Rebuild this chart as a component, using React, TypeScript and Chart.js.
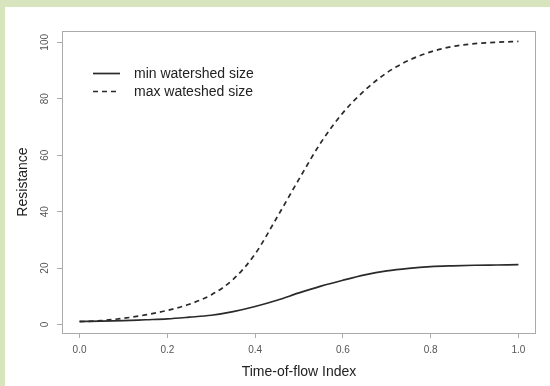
import React, { useEffect, useRef } from "react";
import { Chart, registerables } from "chart.js";

Chart.register(...registerables);

const timeIndex = [0, 0.05, 0.1, 0.15, 0.2, 0.25, 0.3, 0.35, 0.4, 0.45, 0.5, 0.55, 0.6, 0.65, 0.7, 0.75, 0.8, 0.85, 0.9, 0.95, 1.0];
const minWatershed = [1.1, 1.2, 1.4, 1.7, 2.0, 2.6, 3.3, 4.6, 6.4, 8.6, 11.2, 13.6, 15.7, 17.6, 19.0, 19.9, 20.5, 20.8, 21.0, 21.1, 21.2];
const maxWatershed = [1.0, 1.4, 2.2, 3.4, 5.0, 7.2, 10.5, 16, 25, 38, 51.5, 64.5, 75, 83, 89.2, 93.6, 96.6, 98.5, 99.5, 100, 100.3];
const xTicks = [0, 0.2, 0.4, 0.6, 0.8, 1.0];
const yTicks = [0, 20, 40, 60, 80, 100];
const seriesLabels = ["min watershed size", "max wateshed size"];

const FONT = "'Liberation Sans', Arial, sans-serif";

const frameAndLegend = {
  id: "frameAndLegend",
  afterDraw(chart: any) {
    const ctx = chart.ctx;
    const a = chart.chartArea;
    ctx.save();
    ctx.strokeStyle = "#aaaaaa";
    ctx.lineWidth = 1;
    ctx.setLineDash([]);
    ctx.strokeRect(a.left + 0.5, a.top + 0.5, a.right - a.left - 1, a.bottom - a.top);
    const ys = chart.scales.y;
    ctx.fillStyle = "#555555";
    ctx.font = `10px ${FONT}`;
    ctx.textAlign = "center";
    ctx.textBaseline = "middle";
    ys.ticks.forEach((t: any) => {
      const py = ys.getPixelForValue(t.value);
      ctx.save();
      ctx.translate(40, py);
      ctx.rotate(-Math.PI / 2);
      ctx.fillText(String(t.value), 0, 0);
      ctx.restore();
    });
    const lx0 = 88, lx1 = 115, tx = 129;
    const rows = [66.5, 84.5];
    chart.data.datasets.forEach((ds: any, i: number) => {
      const y = rows[i];
      ctx.strokeStyle = ds.borderColor;
      ctx.lineWidth = ds.borderWidth;
      ctx.setLineDash(ds.borderDash || []);
      ctx.beginPath();
      ctx.moveTo(lx0, y);
      ctx.lineTo(lx1, y);
      ctx.stroke();
      ctx.setLineDash([]);
      ctx.fillStyle = "#222222";
      ctx.font = `14px ${FONT}`;
      ctx.textAlign = "left";
      ctx.textBaseline = "middle";
      ctx.fillText(ds.label, tx, y + 1);
    });
    ctx.restore();
  },
};

export default function App() {
  const ref = useRef<HTMLCanvasElement | null>(null);
  useEffect(() => {
    if (!ref.current) return;
    const chart = new Chart(ref.current, {
      type: "line",
      data: {
        datasets: [
          {
            label: seriesLabels[0],
            data: timeIndex.map((x, i) => ({ x, y: minWatershed[i] })),
            borderColor: "#2a2a2a",
            borderWidth: 1.7,
            pointRadius: 0,
            cubicInterpolationMode: "monotone",
            fill: false,
          },
          {
            label: seriesLabels[1],
            data: timeIndex.map((x, i) => ({ x, y: maxWatershed[i] })),
            borderColor: "#2a2a2a",
            borderWidth: 1.7,
            borderDash: [5, 4],
            pointRadius: 0,
            cubicInterpolationMode: "monotone",
            fill: false,
          },
        ],
      },
      options: {
        responsive: false,
        animation: false,
        layout: { padding: { top: 24, right: 14, left: 0, bottom: 0 } },
        plugins: { legend: { display: false }, tooltip: { enabled: false } },
        scales: {
          x: {
            type: "linear",
            min: -0.04,
            max: 1.04,
            afterBuildTicks: (s: any) => {
              s.ticks = xTicks.map((v) => ({ value: v }));
            },
            afterFit: (s: any) => {
              s.height = 53;
            },
            grid: { drawOnChartArea: false, drawTicks: true, tickLength: 5, color: "#aaaaaa" },
            border: { display: false },
            ticks: {
              padding: 6,
              color: "#555555",
              font: { size: 10, family: FONT },
              callback: (v: any) => Number(v).toFixed(1),
              maxRotation: 0,
            },
            title: {
              display: true,
              text: "Time-of-flow Index",
              color: "#222222",
              font: { size: 14, family: FONT },
              padding: { top: 0, bottom: 5 },
            },
          },
          y: {
            type: "linear",
            min: -3,
            max: 104,
            afterBuildTicks: (s: any) => {
              s.ticks = yTicks.map((v) => ({ value: v }));
            },
            afterFit: (s: any) => {
              s.width = 57;
            },
            grid: { drawOnChartArea: false, drawTicks: true, tickLength: 5, color: "#aaaaaa" },
            border: { display: false },
            ticks: { display: false },
            title: {
              display: true,
              text: "Resistance",
              color: "#222222",
              font: { size: 14, family: FONT },
              padding: { top: 10, bottom: 0 },
            },
          },
        },
      },
      plugins: [frameAndLegend],
    } as any);
    return () => chart.destroy();
  }, []);

  return (
    <div
      style={{
        position: "absolute",
        left: 0,
        top: 0,
        width: 545,
        height: 379,
        background: "#ffffff",
        borderTop: "7px solid #d7e4bd",
        borderLeft: "5px solid #d7e4bd",
      }}
    >
      <canvas ref={ref} width={545} height={379} style={{ display: "block" }} />
    </div>
  );
}
